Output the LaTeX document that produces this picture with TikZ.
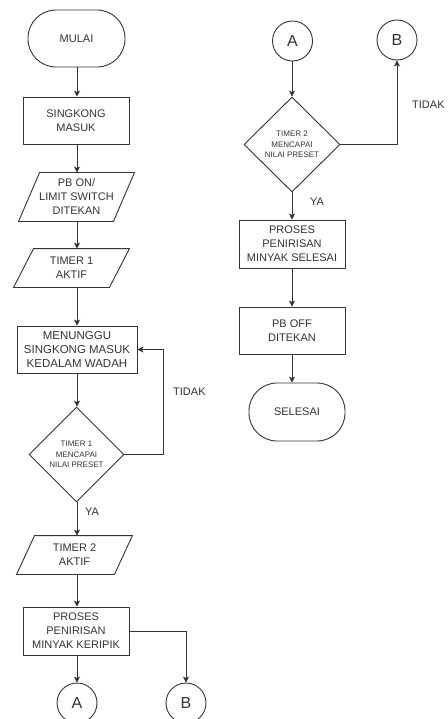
\documentclass[tikz,border=0pt]{standalone}
\usepackage{fontspec}
\setmainfont{Liberation Sans}
\usetikzlibrary{shapes.geometric,arrows.meta,calc}
\definecolor{ln}{HTML}{333333}
\definecolor{tx}{HTML}{333333}
\begin{document}
\begin{tikzpicture}[x=1pt,y=-1pt,
  base/.style={draw=ln,line width=0.9pt,text=tx,inner sep=0pt,align=center,font=\fontsize{11}{14}\selectfont},
  term/.style={base,rounded corners=28pt,minimum width=97pt,minimum height=57pt},
  procbox/.style={base,rectangle,minimum width=106pt,minimum height=47pt},
  iobox/.style={base,draw=none,rectangle,minimum width=115pt,minimum height=38pt},
  decis/.style={base,diamond,aspect=1,minimum width=95pt,minimum height=95pt,font=\fontsize{8}{10.5}\selectfont},
  conn/.style={base,circle,minimum size=40pt,font=\fontsize{16}{18}\selectfont},
  lbl/.style={text=tx,inner sep=0pt,anchor=west,font=\fontsize{11}{13}\selectfont},
  arr/.style={draw=ln,line width=0.9pt,-{Stealth[length=6pt,width=6pt,inset=1.5pt]}},
  ln/.style={draw=ln,line width=0.9pt}
]
\useasboundingbox (0,0) rectangle (447,719);
% left column
\coordinate (cl) at (77,0);
\node[term] (mulai) at (76.5,38.5) {MULAI};
\node[procbox] (singkong) at (76,120.5) {SINGKONG\\MASUK};
\node[iobox,minimum height=48pt] (pbon) at (76.5,197) {PB ON/\\LIMIT SWITCH\\DITEKAN};
\draw[ln] ($(pbon.north west)+(21,0)$) -- (pbon.north east) -- ($(pbon.south east)-(21,0)$) -- (pbon.south west) -- cycle;
\node[iobox] (timer1) at (71.5,268) {TIMER 1\\AKTIF};
\draw[ln] ($(timer1.north west)+(20,0)$) -- (timer1.north east) -- ($(timer1.south east)-(20,0)$) -- (timer1.south west) -- cycle;
\node[procbox,minimum width=120pt,font=\fontsize{11.5}{14}\selectfont] (menunggu) at (77,349.5) {MENUNGGU\\SINGKONG MASUK\\KEDALAM WADAH};
\node[decis] (d1) at (76.5,454.5) {TIMER 1\\MENCAPAI\\NILAI PRESET};
\node[iobox] (timer2) at (74.5,555) {TIMER 2\\AKTIF};
\draw[ln] ($(timer2.north west)+(18,0)$) -- (timer2.north east) -- ($(timer2.south east)-(18,0)$) -- (timer2.south west) -- cycle;
\node[procbox,minimum height=48pt] (proses1) at (76,631) {PROSES\\PENIRISAN\\MINYAK KERIPIK};
\node[conn] (A1) at (77,703) {A};
\node[conn] (B1) at (186,703) {B};
\coordinate (fb) at (163,454.5);

\draw[arr] (cl |- mulai.south) -- (cl |- singkong.north);
\draw[arr] (cl |- singkong.south) -- (cl |- pbon.north);
\draw[arr] (cl |- pbon.south) -- (cl |- timer1.north);
\draw[arr] (cl |- timer1.south) -- (cl |- menunggu.north);
\draw[arr] (cl |- menunggu.south) -- (cl |- d1.north);
\draw[arr] (d1.east) -- (fb) |- (menunggu.east);
\node[lbl] (tidak1) at (173,392) {TIDAK};
\draw[arr] (cl |- d1.south) -- (cl |- timer2.north);
\node[lbl] (ya1) at (85,512) {YA};
\draw[arr] (cl |- timer2.south) -- (cl |- proses1.north);
\draw[arr] (cl |- proses1.south) -- (A1.north);
\draw[arr] (proses1.east) -| (B1.north);

% right column
\coordinate (cr) at (292,0);
\node[conn] (A2) at (292.5,41) {A};
\node[conn] (B2) at (397,40) {B};
\node[decis,minimum width=96pt] (d2) at (292,144.5) {TIMER 2\\MENCAPAI\\NILAI PRESET};
\node[procbox,minimum height=48pt] (proses2) at (292,244) {PROSES\\PENIRISAN\\MINYAK SELESAI};
\node[procbox] (pboff) at (292,330.5) {PB OFF\\DITEKAN};
\node[term,minimum width=96pt,minimum height=58pt] (selesai) at (297,412) {SELESAI};

\draw[arr] (cr |- A2.south) -- (cr |- d2.north);
\draw[arr] (d2.east) -| (B2.south);
\node[lbl] (tidak2) at (412,105) {TIDAK};
\draw[arr] (cr |- d2.south) -- (cr |- proses2.north);
\node[lbl] (ya2) at (310,202) {YA};
\draw[arr] (cr |- proses2.south) -- (cr |- pboff.north);
\draw[arr] (cr |- pboff.south) -- (cr |- selesai.north);
\end{tikzpicture}
\end{document}
